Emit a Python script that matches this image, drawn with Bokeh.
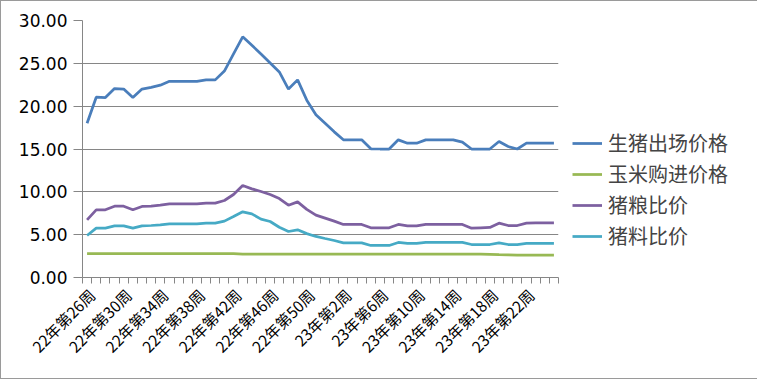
import math
from bokeh.plotting import figure
from bokeh.models import (Range1d, FixedTicker, NumeralTickFormatter, Legend, LegendItem)
from bokeh.embed import file_html
from bokeh.resources import INLINE

categories = ["22年第%d周" % w for w in range(26, 53)] + ["23年第%d周" % w for w in range(1, 26)]

hog_price = [18.0, 21.05, 21.0, 22.06, 22.0, 21.0, 22.0, 22.2, 22.45, 22.9,
             22.9, 22.9, 22.9, 23.07, 23.07, 24.1, 26.1, 28.1, 27.1, 26.1,
             25.05, 24.0, 22.0, 23.07, 20.7, 19.0, 18.0, 17.0, 16.07, 16.07,
             16.07, 15.02, 15.0, 15.0, 16.07, 15.68, 15.68, 16.07, 16.07, 16.07,
             16.07, 15.8, 15.0, 15.0, 15.0, 15.87, 15.29, 15.0, 15.68, 15.68,
             15.68, 15.68]
corn_price = [2.78] * 17 + [2.72] * 27 + [2.70, 2.66, 2.64, 2.62] + [2.60] * 4
hog_grain_ratio = [6.73, 7.9, 7.9, 8.32, 8.32, 7.9, 8.29, 8.32, 8.44, 8.6,
                   8.6, 8.6, 8.6, 8.68, 8.68, 8.99, 9.69, 10.74, 10.35, 10.04,
                   9.69, 9.22, 8.44, 8.83, 7.95, 7.28, 6.93, 6.58, 6.19, 6.19,
                   6.19, 5.8, 5.8, 5.8, 6.19, 6.03, 6.03, 6.19, 6.19, 6.19,
                   6.19, 6.19, 5.76, 5.8, 5.84, 6.34, 6.07, 6.07, 6.34, 6.38,
                   6.38, 6.38]
hog_feed_ratio = [4.9, 5.76, 5.76, 6.03, 6.03, 5.76, 6.03, 6.07, 6.15, 6.27,
                  6.27, 6.27, 6.27, 6.34, 6.34, 6.58, 7.12, 7.67, 7.43, 6.81,
                  6.54, 5.87, 5.37, 5.57, 5.12, 4.79, 4.55, 4.32, 4.05, 4.05,
                  4.05, 3.74, 3.74, 3.74, 4.09, 3.97, 3.97, 4.09, 4.09, 4.09,
                  4.09, 4.09, 3.85, 3.85, 3.85, 4.05, 3.85, 3.85, 3.97, 3.97,
                  3.97, 3.97]

series_names = ["生猪出场价格", "玉米购进价格", "猪粮比价", "猪料比价"]
series_colors = ["#4A7EBB", "#98B954", "#7D60A0", "#46AAC5"]
y_ticks = [0, 5, 10, 15, 20, 25, 30]

n = len(categories)
xs = [i + 0.5 for i in range(n)]

p = figure(width=755, height=377, output_backend="svg", toolbar_location=None,
           x_range=Range1d(0, n), y_range=Range1d(0, 30),
           frame_width=476, frame_height=257,
           min_border_left=81, min_border_top=19, min_border_bottom=101, min_border_right=198,
           styles={"border": "1px solid #9a9a9a"})
p.outline_line_color = None
p.background_fill_color = "white"
p.border_fill_color = "white"

GRAY = "#868686"
renderers = []
for vals, col in zip([hog_price, corn_price, hog_grain_ratio, hog_feed_ratio], series_colors):
    r = p.line(xs, vals, line_color=col, line_width=2.75)
    renderers.append(r)

# x axis (labels anchored a little right of the category centre, as in the original)
label_idx = list(range(0, n, 4))
label_pos = [i + 1.0 for i in label_idx]
p.xaxis.ticker = FixedTicker(ticks=label_pos, minor_ticks=list(range(0, n + 1)))
p.xaxis.major_label_overrides = {pos: categories[i] for pos, i in zip(label_pos, label_idx)}
p.xaxis.major_label_orientation = math.pi / 4
p.xaxis.major_tick_line_color = None
p.xaxis.minor_tick_line_color = GRAY
p.xaxis.minor_tick_out = 6
p.xaxis.minor_tick_in = 0
p.xaxis.axis_line_color = GRAY
p.xaxis.major_label_text_font = "Noto Sans CJK SC"
p.xaxis.major_label_text_font_size = "15.5px"
p.xaxis.major_label_text_color = "black"
p.xaxis.major_label_standoff = 8
p.xgrid.grid_line_color = None

# y axis
p.yaxis.ticker = FixedTicker(ticks=y_ticks)
p.yaxis.formatter = NumeralTickFormatter(format="0.00")
p.yaxis.major_tick_out = 9
p.yaxis.major_tick_in = 0
p.yaxis.minor_tick_line_color = None
p.yaxis.major_tick_line_color = GRAY
p.yaxis.axis_line_color = GRAY
p.yaxis.major_label_text_font = "DejaVu Sans"
p.yaxis.major_label_text_font_size = "17px"
p.yaxis.major_label_text_color = "black"
p.yaxis.major_label_standoff = 6
p.ygrid.grid_line_color = GRAY
p.ygrid.grid_line_width = 1

legend = Legend(items=[LegendItem(label=nm, renderers=[r]) for nm, r in zip(series_names, renderers)],
                location=(14, 27), padding=0, margin=0, spacing=2,
                label_height=24, glyph_height=24, glyph_width=30, label_standoff=6,
                label_text_font="Noto Sans CJK SC", label_text_font_size="20px",
                border_line_color=None, background_fill_alpha=0)
p.add_layout(legend, "right")

open("out.html", "w").write(file_html(p, INLINE))
